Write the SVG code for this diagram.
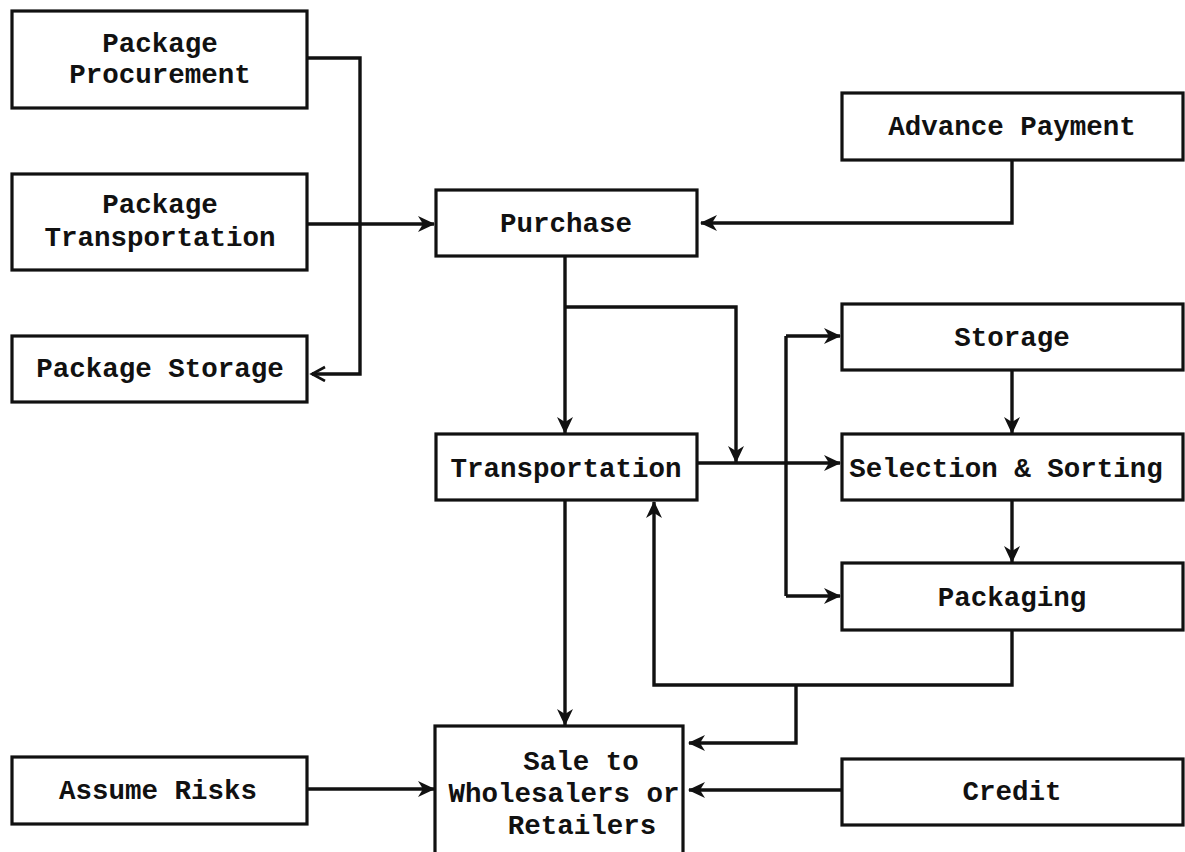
<svg xmlns="http://www.w3.org/2000/svg" width="1185" height="852" viewBox="0 0 1185 852">
  <style>
    .box { fill: #ffffff; stroke: #111111; stroke-width: 3.2; }
    .lbl { font-family: "Liberation Mono", "Courier New", monospace; font-weight: bold; font-size: 27.5px; fill: #111111; text-anchor: middle; }
    .wire { fill: none; stroke: #111111; stroke-width: 3.4; }
    .arr { marker-end: url(#head); }
  </style>
  <defs>
    <marker id="head" markerUnits="userSpaceOnUse" markerWidth="20" markerHeight="20" refX="16" refY="8" orient="auto">
      <path d="M0,0 L17,8 L0,16 L5,8 z" fill="#111111"/>
    </marker>
    <marker id="open" markerUnits="userSpaceOnUse" markerWidth="18" markerHeight="18" refX="14" refY="8" orient="auto">
      <path d="M1,1 L14,8 L1,15" fill="none" stroke="#111111" stroke-width="2.6"/>
    </marker>
  </defs>

  <!-- connectors -->
  <g id="connectors">
    <path class="wire" d="M307,58 H360 V374 H312" stroke-width="2.8" marker-end="url(#open)"/>
    <path class="wire arr" d="M307,224 H434" stroke-width="5"/>
    <path class="wire arr" d="M1012,160 V223 H701"/>
    <path class="wire arr" d="M565,256 V433"/>
    <path class="wire arr" d="M565,307 H736 V462"/>
    <path class="wire arr" d="M697,463 H840"/>
    <path class="wire" d="M786,336 V596"/>
    <path class="wire arr" d="M786,336 H840"/>
    <path class="wire arr" d="M786,596 H840"/>
    <path class="wire arr" d="M1012,370 V433"/>
    <path class="wire arr" d="M1012,500 V562"/>
    <path class="wire arr" d="M1012,630 V685 H654 V502"/>
    <path class="wire arr" d="M796,685 V743 H689"/>
    <path class="wire arr" d="M565,500 V725"/>
    <path class="wire arr" d="M307,789 H434"/>
    <path class="wire arr" d="M841,790 H689"/>
  </g>

  <!-- left column -->
  <g id="package-procurement">
    <rect class="box" x="12" y="11" width="295" height="97"/>
    <text class="lbl" x="160" y="52">Package</text>
    <text class="lbl" x="160" y="83">Procurement</text>
  </g>
  <g id="package-transportation">
    <rect class="box" x="12" y="174" width="295" height="96"/>
    <text class="lbl" x="160" y="213">Package</text>
    <text class="lbl" x="160" y="246">Transportation</text>
  </g>
  <g id="package-storage">
    <rect class="box" x="12" y="336" width="295" height="66"/>
    <text class="lbl" x="160" y="377">Package Storage</text>
  </g>
  <g id="assume-risks">
    <rect class="box" x="12" y="757" width="295" height="67"/>
    <text class="lbl" x="158" y="799">Assume Risks</text>
  </g>

  <!-- centre column -->
  <g id="purchase">
    <rect class="box" x="436" y="190" width="261" height="66"/>
    <text class="lbl" x="566" y="232">Purchase</text>
  </g>
  <g id="transportation">
    <rect class="box" x="436" y="434" width="261" height="66"/>
    <text class="lbl" x="566" y="477">Transportation</text>
  </g>
  <g id="sale">
    <rect class="box" x="435" y="726" width="248" height="140"/>
    <text class="lbl" x="581" y="770">Sale to</text>
    <text class="lbl" x="564" y="802">Wholesalers or</text>
    <text class="lbl" x="582" y="834">Retailers</text>
  </g>

  <!-- right column -->
  <g id="advance-payment">
    <rect class="box" x="842" y="93" width="341" height="67"/>
    <text class="lbl" x="1012" y="135">Advance Payment</text>
  </g>
  <g id="storage">
    <rect class="box" x="842" y="304" width="341" height="66"/>
    <text class="lbl" x="1012" y="346">Storage</text>
  </g>
  <g id="selection-sorting">
    <rect class="box" x="842" y="434" width="341" height="66"/>
    <text class="lbl" x="1006" y="477">Selection &amp; Sorting</text>
  </g>
  <g id="packaging">
    <rect class="box" x="842" y="563" width="341" height="67"/>
    <text class="lbl" x="1012" y="606">Packaging</text>
  </g>
  <g id="credit">
    <rect class="box" x="842" y="759" width="341" height="66"/>
    <text class="lbl" x="1012" y="800">Credit</text>
  </g>
</svg>
